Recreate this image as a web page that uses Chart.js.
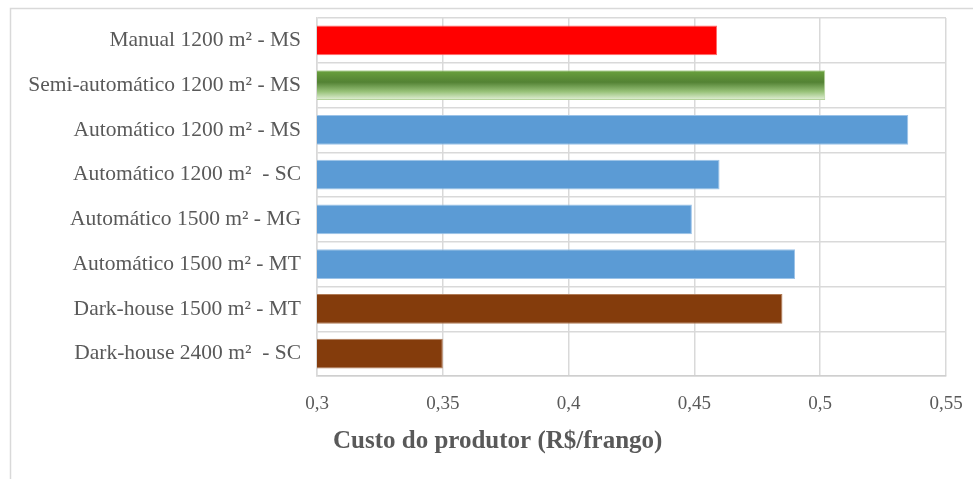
<!DOCTYPE html>
<html>
<head>
<meta charset="utf-8">
<script src="https://cdn.jsdelivr.net/npm/chart.js@4/dist/chart.umd.min.js"></script>
<style>
  html, body { margin: 0; padding: 0; background: #ffffff; }
  #wrap { width: 973px; height: 479px; position: relative; }
</style>
</head>
<body>
<div id="wrap"><canvas id="c" width="973" height="479"></canvas></div>
<script>
// Producer cost per chicken for each housing system
const categories = [
  'Manual 1200 m² - MS',
  'Semi-automático 1200 m² - MS',
  'Automático 1200 m² - MS',
  'Automático 1200 m²  - SC',
  'Automático 1500 m² - MG',
  'Automático 1500 m² - MT',
  'Dark-house 1500 m² - MT',
  'Dark-house 2400 m²  - SC'
];
const costs = [0.459, 0.502, 0.535, 0.46, 0.449, 0.49, 0.485, 0.35];
const barFill = ['#ff0000', 'gradient', '#5b9bd5', '#5b9bd5', '#5b9bd5', '#5b9bd5', '#843c0c', '#843c0c'];
const barEdge = ['#ff6b6b', '#b5d39c', '#9cc3e8', '#9cc3e8', '#9cc3e8', '#9cc3e8', '#b07a55', '#b07a55'];
const xTicks = [0.3, 0.35, 0.4, 0.45, 0.5, 0.55];
const axisTitle = 'Custo do produtor (R$/frango)';

const textGray = '#595959';
const gridGray = '#d9d9d9';
const serif = '"Liberation Serif", "Times New Roman", serif';
const barShare = 0.66;

// Vertical fade for the semi-automatic bar, built from the bar's own band on the y scale
function greenGradient(ctx) {
  const chart = ctx.chart;
  const y = chart.scales && chart.scales.y;
  if (!y || !chart.chartArea) return '#548235';
  const center = y.getPixelForValue(ctx.dataIndex);
  const half = (y.height / categories.length) * barShare / 2;
  const g = chart.ctx.createLinearGradient(0, center - half, 0, center + half);
  g.addColorStop(0, '#6aa13d');
  g.addColorStop(0.4, '#538234');
  g.addColorStop(0.72, '#98c279');
  g.addColorStop(1, '#e3f0d9');
  return g;
}

// Outer frame lines and the axis title placed under the tick labels
const framePlugin = {
  id: 'frame',
  beforeDraw(chart) {
    const c = chart.ctx;
    c.save();
    c.strokeStyle = '#d9d9d9';
    c.lineWidth = 1.5;
    c.beginPath();
    c.moveTo(10.5, 479);
    c.lineTo(10.5, 8.5);
    c.lineTo(973, 8.5);
    c.stroke();
    c.restore();
  },
  afterDraw(chart) {
    const c = chart.ctx;
    const a = chart.chartArea;
    c.save();
    c.fillStyle = textGray;
    c.font = 'bold 25px ' + serif;
    c.textAlign = 'left';
    c.textBaseline = 'middle';
    c.fillText(axisTitle, a.left + 16, 442);
    c.restore();
  }
};

new Chart(document.getElementById('c'), {
  type: 'bar',
  data: {
    labels: categories,
    datasets: [{
      data: costs,
      backgroundColor: (ctx) => barFill[ctx.dataIndex] === 'gradient' ? greenGradient(ctx) : barFill[ctx.dataIndex],
      borderColor: barEdge,
      borderWidth: 1,
      borderSkipped: false,
      categoryPercentage: barShare,
      barPercentage: 1
    }]
  },
  options: {
    indexAxis: 'y',
    responsive: false,
    animation: false,
    devicePixelRatio: 1,
    layout: { padding: { top: 18, right: 27, left: 0, bottom: 0 } },
    plugins: {
      legend: { display: false },
      tooltip: { enabled: false }
    },
    scales: {
      x: {
        min: 0.3,
        max: 0.55,
        afterBuildTicks(scale) {
          scale.ticks = xTicks.map(v => ({ value: v }));
        },
        afterFit(scale) {
          scale.height = 103;
          scale.paddingLeft = 0;
          scale.paddingRight = 0;
        },
        ticks: {
          color: textGray,
          font: { family: serif, size: 19 },
          padding: 17,
          callback: (v) => String(v).replace('.', ',')
        },
        grid: { color: gridGray, lineWidth: 1.5, drawTicks: false },
        border: { display: true, color: '#cfcfcf', width: 1.5 }
      },
      y: {
        afterFit(scale) {
          scale.width = 317;
          scale.paddingTop = 0;
          scale.paddingBottom = 0;
        },
        ticks: {
          color: textGray,
          font: { family: serif, size: 21.5 },
          padding: 16
        },
        grid: { color: gridGray, lineWidth: 1.5, drawTicks: false, offset: true },
        border: { display: true, color: gridGray, width: 1.5 }
      }
    }
  },
  plugins: [framePlugin]
});
</script>
</body>
</html>
